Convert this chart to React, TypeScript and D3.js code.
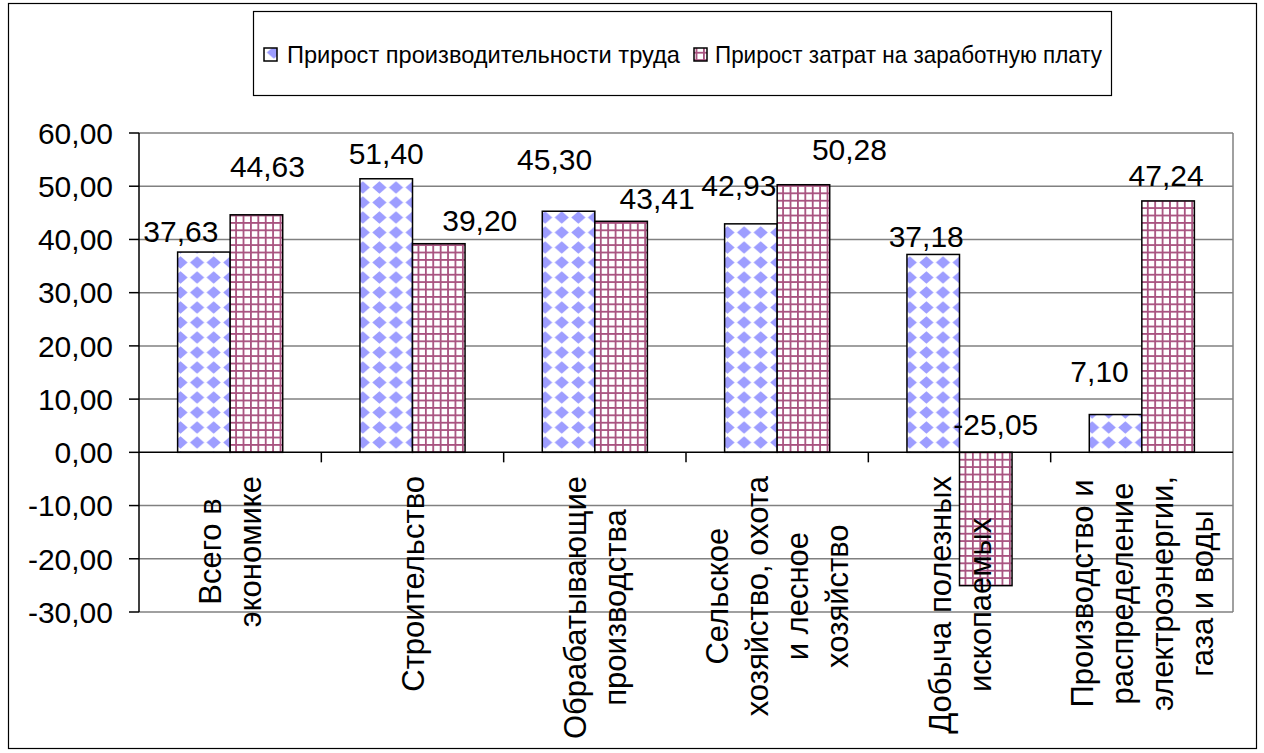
import React, { useRef, useEffect } from 'react';
import * as d3 from 'd3';

// category names, already broken into the lines shown under the axis
const categoryLines: string[][] = [
  ['Всего в', 'экономике'],
  ['Строительство'],
  ['Обрабатывающие', 'производства'],
  ['Сельское', 'хозяйство, охота', 'и лесное', 'хозяйство'],
  ['Добыча полезных', 'ископаемых'],
  ['Производство и', 'распределение', 'электроэнергии,', 'газа и воды'],
];
const seriesNames = ['Прирост производительности труда', 'Прирост затрат на заработную плату'];
const productivity = [37.63, 51.4, 45.3, 42.93, 37.18, 7.1];
const wages = [44.63, 39.2, 43.41, 50.28, -25.05, 47.24];
const yTicks = [60, 50, 40, 30, 20, 10, 0, -10, -20, -30];

// data labels were dragged by hand in the original; [dx, dy] from the bar end
const labelNudgeA: [number, number][] = [[-23, -10], [0, -15], [-14, -41], [-12, -28], [-7, -7], [-16, -33]];
const labelNudgeB: [number, number][] = [[11, -38], [41, -13], [36, -12], [46, -25], [10, -17], [-2, -15]];

const WIDTH = 1264;
const HEIGHT = 753;
const FONT = '"Liberation Sans", Arial, sans-serif';

const fmt = (v: number) => v.toFixed(2).replace('.', ',');

const App: React.FC = () => {
  const svgRef = useRef<SVGSVGElement>(null);

  useEffect(() => {
    if (!svgRef.current) return;
    const svg = d3.select(svgRef.current);
    svg.selectAll('*').remove();

    const plot = { left: 139, right: 1233, top: 133, bottom: 612 };

    const x0 = d3
      .scaleBand<number>()
      .domain(d3.range(categoryLines.length))
      .range([plot.left, plot.right]);
    const x1 = d3
      .scaleBand<string>()
      .domain(['a', 'b'])
      .range([0, x0.bandwidth()])
      .paddingOuter(0.735);
    const y = d3.scaleLinear().domain([-30, 60]).range([plot.bottom, plot.top]);

    // Patterns
    const defs = svg.append('defs');
    const pd = defs
      .append('pattern')
      .attr('id', 'diamonds')
      .attr('patternUnits', 'userSpaceOnUse')
      .attr('width', 16.6)
      .attr('height', 15);
    pd.append('rect').attr('width', 16.6).attr('height', 15).attr('fill', '#fff');
    pd.append('path').attr('d', 'M8.3,1.2 L15.4,7.5 L8.3,13.8 L1.2,7.5Z').attr('fill', '#9d9dff');

    const pg = defs
      .append('pattern')
      .attr('id', 'grid')
      .attr('patternUnits', 'userSpaceOnUse')
      .attr('width', 7.4)
      .attr('height', 7.4);
    pg.append('rect').attr('width', 7.4).attr('height', 7.4).attr('fill', '#fff');
    pg.append('rect').attr('width', 7.4).attr('height', 1.8).attr('fill', '#a8527f');
    pg.append('rect').attr('width', 1.8).attr('height', 7.4).attr('fill', '#a8527f');

    // Outer frame
    svg
      .append('rect')
      .attr('x', 8.5)
      .attr('y', 3.5)
      .attr('width', 1248)
      .attr('height', 745)
      .attr('fill', '#fff')
      .attr('stroke', '#000')
      .attr('stroke-width', 1.2);

    // Grid lines
    svg
      .append('g')
      .selectAll('line')
      .data(yTicks.filter((d) => d !== 0))
      .enter()
      .append('line')
      .attr('x1', plot.left)
      .attr('x2', plot.right)
      .attr('y1', (d) => y(d))
      .attr('y2', (d) => y(d))
      .attr('stroke', '#808080')
      .attr('stroke-width', 1.5);

    svg
      .append('line')
      .attr('x1', plot.right)
      .attr('x2', plot.right)
      .attr('y1', plot.top)
      .attr('y2', plot.bottom)
      .attr('stroke', '#808080')
      .attr('stroke-width', 1.5);

    // Bars
    const groups = svg
      .append('g')
      .selectAll('g')
      .data(d3.range(categoryLines.length))
      .enter()
      .append('g')
      .attr('transform', (i) => `translate(${x0(i)},0)`);

    groups
      .selectAll('rect')
      .data((i) => [
        { key: 'a', v: productivity[i], fill: 'url(#diamonds)' },
        { key: 'b', v: wages[i], fill: 'url(#grid)' },
      ])
      .enter()
      .append('rect')
      .attr('x', (d) => x1(d.key) as number)
      .attr('width', x1.bandwidth())
      .attr('y', (d) => y(Math.max(0, d.v)))
      .attr('height', (d) => Math.abs(y(d.v) - y(0)))
      .attr('fill', (d) => d.fill)
      .attr('stroke', '#000')
      .attr('stroke-width', 1.5);

    // Y axis
    const axis = svg.append('g');
    axis
      .append('line')
      .attr('x1', plot.left)
      .attr('x2', plot.left)
      .attr('y1', plot.top)
      .attr('y2', plot.bottom)
      .attr('stroke', '#000')
      .attr('stroke-width', 1.5);
    axis
      .selectAll('.ytick')
      .data(yTicks)
      .enter()
      .append('line')
      .attr('x1', plot.left - 10)
      .attr('x2', plot.left)
      .attr('y1', (d) => y(d))
      .attr('y2', (d) => y(d))
      .attr('stroke', '#000')
      .attr('stroke-width', 1.5);
    axis
      .selectAll('.ylabel')
      .data(yTicks)
      .enter()
      .append('text')
      .attr('x', 113)
      .attr('y', (d) => y(d))
      .attr('dy', '0.36em')
      .attr('text-anchor', 'end')
      .attr('font-family', FONT)
      .attr('font-size', 30)
      .text((d) => fmt(d));

    // Zero line with category ticks
    axis
      .append('line')
      .attr('x1', plot.left)
      .attr('x2', plot.right)
      .attr('y1', y(0))
      .attr('y2', y(0))
      .attr('stroke', '#000')
      .attr('stroke-width', 1.5);
    axis
      .selectAll('.xtick')
      .data(d3.range(1, categoryLines.length))
      .enter()
      .append('line')
      .attr('x1', (i) => x0(i) as number)
      .attr('x2', (i) => x0(i) as number)
      .attr('y1', y(0))
      .attr('y2', y(0) + 10)
      .attr('stroke', '#000')
      .attr('stroke-width', 1.5);

    // Category labels, rotated, lines centered, top aligned under the axis
    const labelTop = 476;
    const lineStep = 40;
    categoryLines.forEach((lines, i) => {
      const cx = (x0(i) as number) + x0.bandwidth() / 2;
      const g = svg.append('g');
      const texts = lines.map((line, k) =>
        g
          .append('text')
          .attr('text-anchor', 'middle')
          .attr('dy', '0.36em')
          .attr('font-family', FONT)
          .attr('font-size', 31)
          .text(line)
          .datum(cx + (k - (lines.length - 1) / 2) * lineStep)
      );
      const maxLen = d3.max(texts, (t) => (t.node() as SVGTextElement).getComputedTextLength()) || 0;
      const cy = labelTop + maxLen / 2;
      texts.forEach((t) => t.attr('transform', (lx) => `translate(${lx},${cy}) rotate(-90)`));
    });

    // Value labels
    const labels = svg.append('g');
    const addLabels = (values: number[], key: string, nudge: [number, number][]) => {
      labels
        .selectAll(`.lbl-${key}`)
        .data(values)
        .enter()
        .append('text')
        .attr('x', (v, i) => (x0(i) as number) + (x1(key) as number) + x1.bandwidth() / 2 + nudge[i][0])
        .attr('y', (v, i) => y(Math.max(0, v)) + nudge[i][1])
        .attr('text-anchor', 'middle')
        .attr('font-family', FONT)
        .attr('font-size', 30)
        .text((v) => fmt(v));
    };
    addLabels(productivity, 'a', labelNudgeA);
    addLabels(wages, 'b', labelNudgeB);

    // Legend
    const legend = svg.append('g');
    legend
      .append('rect')
      .attr('x', 253.5)
      .attr('y', 11.5)
      .attr('width', 858)
      .attr('height', 84)
      .attr('fill', '#fff')
      .attr('stroke', '#000')
      .attr('stroke-width', 1.2);
    const items = [
      { name: seriesNames[0], fill: 'url(#diamonds)', box: 264, text: 287, len: 393 },
      { name: seriesNames[1], fill: 'url(#grid)', box: 694, text: 715, len: 387 },
    ];
    items.forEach((it) => {
      legend
        .append('rect')
        .attr('x', it.box)
        .attr('y', 48)
        .attr('width', 13)
        .attr('height', 13)
        .attr('fill', it.fill)
        .attr('stroke', '#000')
        .attr('stroke-width', 1.5);
      legend
        .append('text')
        .attr('x', it.text)
        .attr('y', 63)
        .attr('font-family', FONT)
        .attr('font-size', 24)
        .attr('textLength', it.len)
        .attr('lengthAdjust', 'spacingAndGlyphs')
        .text(it.name);
    });
  }, []);

  return (
    <div style={{ position: 'absolute', left: 0, top: 0 }}>
      <svg ref={svgRef} width={WIDTH} height={HEIGHT}></svg>
    </div>
  );
};

export default App;
